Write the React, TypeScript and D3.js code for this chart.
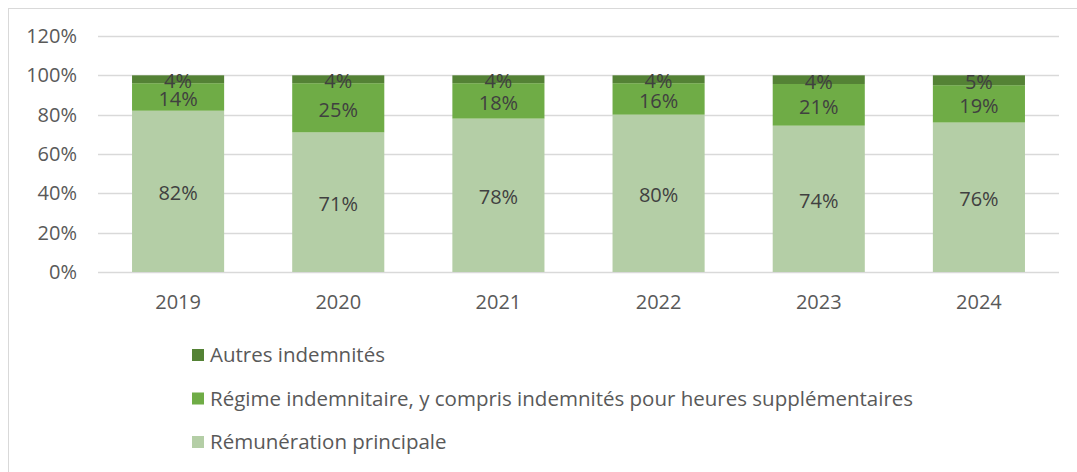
import { useEffect, useRef } from "react";
import * as d3 from "d3";

const years = ["2019", "2020", "2021", "2022", "2023", "2024"];
// shares in %, labels show the rounded value
const remuneration = [82, 71, 78, 80, 74.4, 76];
const regime = [14, 25, 18, 16, 21.2, 19];
const autres = [4, 4, 4, 4, 4.4, 5];
const yTicks = [0, 20, 40, 60, 80, 100, 120];

const seriesNames = [
  "Rémunération principale",
  "Régime indemnitaire, y compris indemnités pour heures supplémentaires",
  "Autres indemnités",
];
const colors = ["#b4cea6", "#6fac46", "#548235"];

export default function App() {
  const ref = useRef<SVGSVGElement>(null);

  useEffect(() => {
    const svg = d3.select(ref.current);
    svg.selectAll("*").remove();

    const font = "'Open Sans', sans-serif";

    // frame
    svg
      .append("rect")
      .attr("x", 8.5)
      .attr("y", 8.5)
      .attr("width", 1100)
      .attr("height", 500)
      .attr("fill", "#fff")
      .attr("stroke", "#d9d9d9");

    const x = d3.scaleBand().domain(years).range([98, 1059]).paddingInner(0.425).paddingOuter(0.2125);
    const y = d3.scaleLinear().domain([0, 120]).range([272, 36]);

    // gridlines
    svg
      .append("g")
      .selectAll("line")
      .data(yTicks)
      .enter()
      .append("line")
      .attr("x1", 98)
      .attr("x2", 1059)
      .attr("y1", (d) => Math.round(y(d)) + 0.5)
      .attr("y2", (d) => Math.round(y(d)) + 0.5)
      .attr("stroke", "#d9d9d9")
      .attr("stroke-width", 1.5);

    // y labels
    svg
      .append("g")
      .selectAll("text")
      .data(yTicks)
      .enter()
      .append("text")
      .attr("x", 77)
      .attr("y", (d) => y(d) + 7)
      .attr("text-anchor", "end")
      .attr("font-family", font)
      .attr("font-size", 20)
      .attr("fill", "#595959")
      .text((d) => `${d}%`);

    // stacked data
    const rows = years.map((yr, i) => ({
      year: yr,
      r: remuneration[i],
      g: regime[i],
      a: autres[i],
    }));
    const stack = d3.stack<any>().keys(["r", "g", "a"]);
    const layers = stack(rows);

    layers.forEach((layer, li) => {
      svg
        .append("g")
        .selectAll("rect")
        .data(layer)
        .enter()
        .append("rect")
        .attr("x", (d) => x(d.data.year)!)
        .attr("width", x.bandwidth())
        .attr("y", (d) => y(d[1]))
        .attr("height", (d) => y(d[0]) - y(d[1]))
        .attr("fill", colors[li]);
    });

    layers.forEach((layer) => {
      svg
        .append("g")
        .selectAll("text")
        .data(layer)
        .enter()
        .append("text")
        .attr("x", (d) => x(d.data.year)! + x.bandwidth() / 2)
        .attr("y", (d) => (y(d[0]) + y(d[1])) / 2 + 9)
        .attr("text-anchor", "middle")
        .attr("font-family", font)
        .attr("font-size", 20)
        .attr("fill", "#404040")
        .text((d) => `${Math.round(d[1] - d[0])}%`);
    });

    // x labels
    svg
      .append("g")
      .selectAll("text")
      .data(years)
      .enter()
      .append("text")
      .attr("x", (d) => x(d)! + x.bandwidth() / 2)
      .attr("y", 309)
      .attr("text-anchor", "middle")
      .attr("font-family", font)
      .attr("font-size", 20)
      .attr("fill", "#595959")
      .text((d) => d);

    // legend
    const legendOrder = [2, 1, 0];
    const legend = svg
      .append("g")
      .selectAll("g")
      .data(legendOrder)
      .enter()
      .append("g")
      .attr("transform", (d, i) => `translate(0, ${362 + i * 43.5})`);
    legend
      .append("rect")
      .attr("x", 192)
      .attr("y", -13)
      .attr("width", 12)
      .attr("height", 12)
      .attr("fill", (d) => colors[d]);
    legend
      .append("text")
      .attr("x", 210)
      .attr("y", 0)
      .attr("font-family", font)
      .attr("font-size", 20.5)
      .attr("fill", "#595959")
      .text((d) => seriesNames[d]);
  }, []);

  return (
    <svg
      ref={ref}
      width={1077}
      height={472}
      style={{ position: "absolute", left: 0, top: 0, background: "#fff" }}
    />
  );
}
